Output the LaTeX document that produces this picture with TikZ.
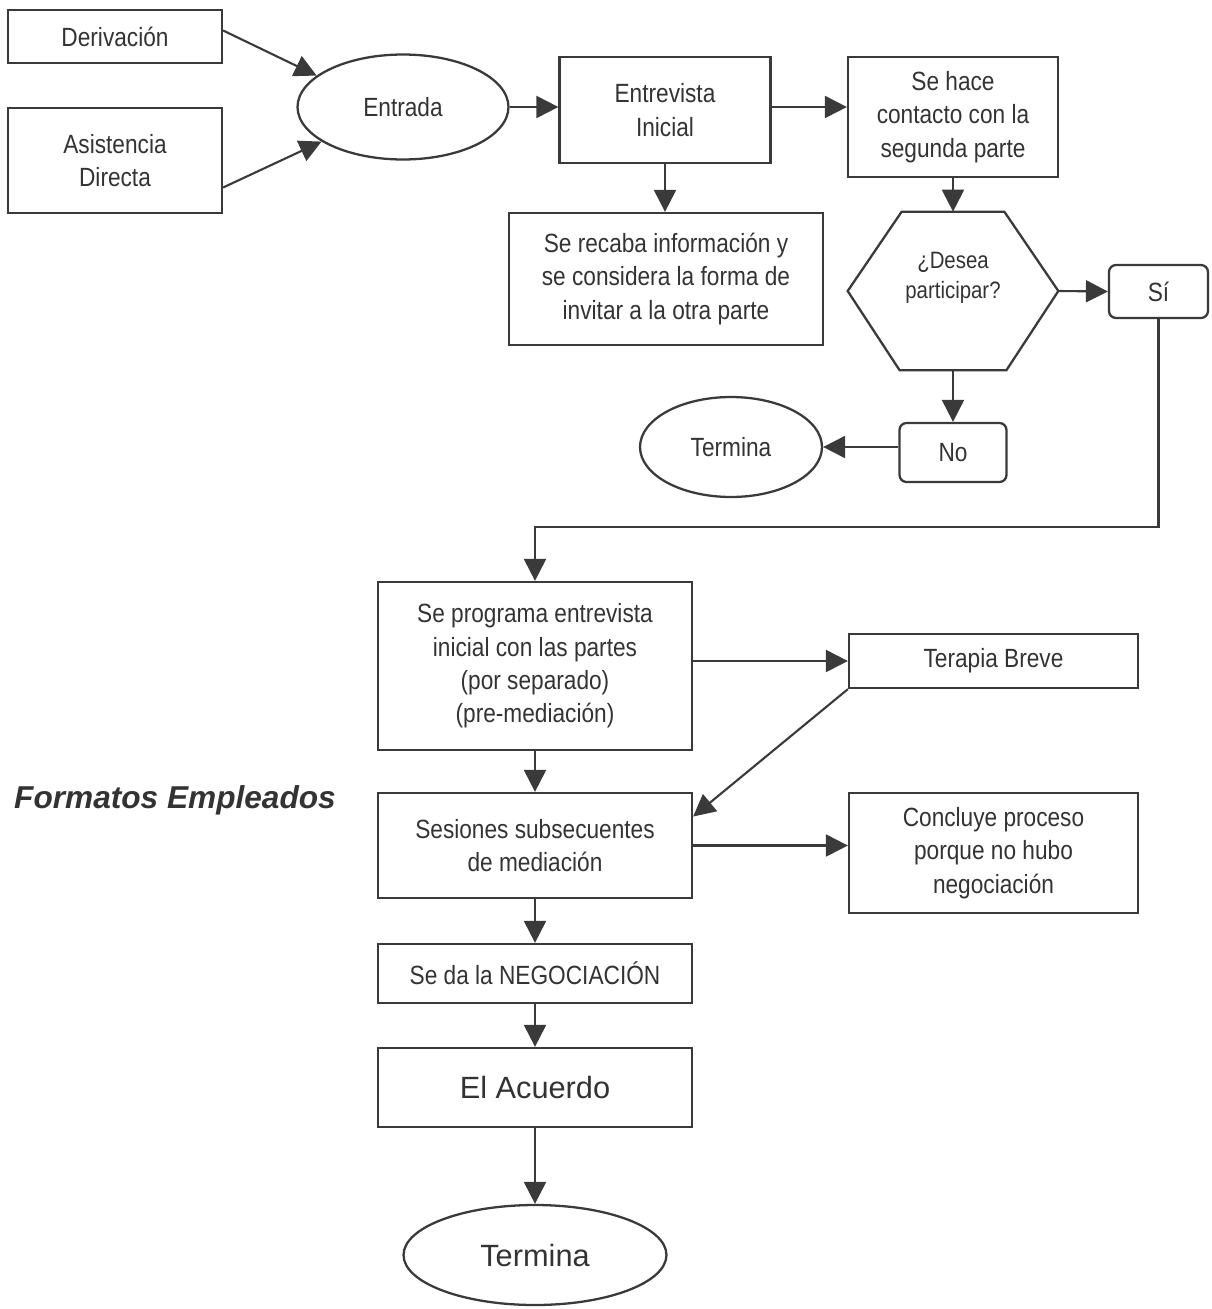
\documentclass[tikz,border=0pt]{standalone}
\usepackage{fontspec}
\setmainfont{Liberation Sans}
\newfontfamily\narrowsf[FakeStretch=0.86]{Liberation Sans}
\usetikzlibrary{shapes, arrows.meta, positioning, calc}
\definecolor{linegray}{HTML}{3A3A3A}
\definecolor{textgray}{HTML}{333333}

\begin{document}
\begin{tikzpicture}[
  x=0.02cm, y=-0.02cm,
  box/.style={draw=linegray, line width=1.3pt, text=textgray, align=center,
    inner sep=1pt, font=\narrowsf\fontsize{15}{19}\selectfont},
  rbox/.style={box, rounded corners=4pt},
  oval/.style={ellipse, draw=linegray, line width=1.3pt, text=textgray,
    inner sep=0pt},
  arr/.style={-{Triangle[length=12.5pt,width=12.5pt]}, line width=1.2pt,
    draw=linegray}
  ]
  \useasboundingbox (0,0) rectangle (1211,1309);

  % entrada
  \node[box, minimum width=4.28cm, minimum height=1.06cm] (der) at (115,36.5) {Derivación};
  \node[box, minimum width=4.28cm, minimum height=2.1cm] (asis) at (115,160.5) {Asistencia\\Directa};
  \node[oval, minimum width=4.22cm, minimum height=2.1cm,
    font=\narrowsf\fontsize{15}{19}\selectfont] (ent) at (403,107) {Entrada};
  \node[box, minimum width=4.22cm, minimum height=2.12cm] (ini) at (665,110) {Entrevista\\Inicial};
  \node[box, minimum width=4.2cm, minimum height=2.4cm] (cont) at (953,117) {Se hace\\contacto con la\\segunda parte};
  \node[box, minimum width=6.28cm, minimum height=2.64cm] (rec) at (666,279)
    {Se recaba información y\\se considera la forma de\\invitar a la otra parte};

  % pregunta
  \node[minimum width=4.2cm, minimum height=3.16cm] (des) at (953,291) {};
  \draw[linegray, line width=1.3pt] (des.west) -- ($(des.north west)+(54,0)$)
    -- ($(des.north east)+(-54,0)$) -- (des.east) -- ($(des.south east)+(-52,0)$)
    -- ($(des.south west)+(52,0)$) -- cycle;
  \node[text=textgray, align=center, font=\narrowsf\fontsize{13.5}{17}\selectfont] (desq)
    at ($(des)+(0,-13)$) {¿Desea\\participar?};
  \node[rbox, minimum width=1.98cm, minimum height=1.06cm] (si) at (1158.5,291.5) {Sí};
  \node[rbox, minimum width=2.14cm, minimum height=1.18cm] (no) at (953,452.5) {No};
  \node[oval, minimum width=3.64cm, minimum height=2cm,
    font=\narrowsf\fontsize{15}{18}\selectfont] (fin) at (731,447) {Termina};

  % mediacion
  \node[box, minimum width=6.28cm, minimum height=3.36cm] (prog) at (535,666)
    {Se programa entrevista\\inicial con las partes\\(por separado)\\(pre-mediación)};
  \node[box, minimum width=5.78cm, minimum height=1.08cm] (ter) at (993.5,661) {Terapia Breve};
  \node[box, minimum width=6.28cm, minimum height=2.1cm] (ses) at (535,845.5)
    {Sesiones subsecuentes\\de mediación};
  \node[box, minimum width=5.78cm, minimum height=2.4cm] (conc) at (993.5,853)
    {Concluye proceso\\porque no hubo\\negociación};
  \node[box, minimum width=6.28cm, minimum height=1.18cm] (neg) at (535,973.5) {Se da la NEGOCIACIÓN};
  \node[box, minimum width=6.28cm, minimum height=1.58cm,
    font=\fontsize{17.5}{20}\selectfont] (acu) at (535,1087.5) {El Acuerdo};
  \node[oval, minimum width=5.26cm, minimum height=2cm,
    font=\fontsize{17.5}{20}\selectfont] (fin2) at (535,1255) {Termina};

  \node[anchor=west, text=textgray,
    font=\bfseries\itshape\fontsize{18}{21}\selectfont] (fmt) at (8,800) {Formatos Empleados};

  % flechas
  \draw[arr] ($(der.east)+(0,-6)$) -- (ent.160);
  \draw[arr] ($(asis.east)+(0,27)$) -- (ent.203);
  \draw[arr] (ent.east) -- (ent.east -| ini.west);
  \draw[arr] (ent.east -| ini.east) -- (ent.east -| cont.west);
  \draw[arr] (ini.south) -- (ini.south |- rec.north);
  \draw[arr] (cont.south) -- (des.north);
  \draw[arr] (des.east) -- (si.west);
  \draw[arr] (des.south) -- (no.north);
  \draw[arr] (fin.east -| no.west) -- (fin.east);
  \draw[arr] (si.south) |- ($(prog.north)+(0,-54)$) -- (prog.north);
  \draw[arr] (prog.east |- ter.west) -- (ter.west);
  \draw[arr] (ter.south west) -- ($(ses.north east)!0.23!(ses.south east)$);
  \draw[arr] (prog.south) -- (ses.north);
  \draw[arr] (ses.east) -- (ses.east -| conc.west);
  \draw[arr] (ses.south) -- (neg.north);
  \draw[arr] (neg.south) -- (acu.north);
  \draw[arr] (acu.south) -- (fin2.north);
\end{tikzpicture}
\end{document}
